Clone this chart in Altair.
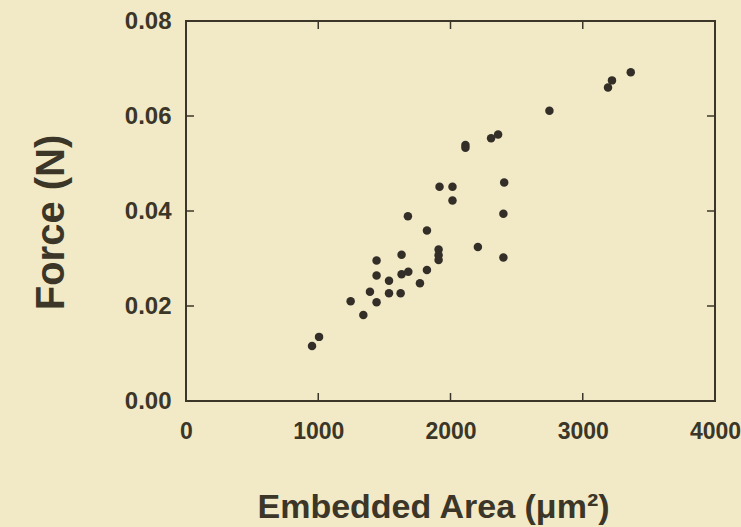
import altair as alt
import pandas as pd

# Data (Embedded Area in µm², Force in N)
area = [953, 1006, 1245, 1341, 1391, 1441, 1441, 1441, 1535, 1535, 1623, 1630,
        1630, 1681, 1678, 1769, 1822, 1822, 1910, 1910, 1910, 1917, 2015, 2015,
        2113, 2113, 2207, 2307, 2360, 2406, 2400, 2400, 2748, 3191, 3221, 3363]
force = [0.0116, 0.0135, 0.0210, 0.0181, 0.0230, 0.0208, 0.0264, 0.0296, 0.0253,
         0.0227, 0.0227, 0.0308, 0.0267, 0.0272, 0.0389, 0.0248, 0.0276, 0.0359,
         0.0319, 0.0307, 0.0297, 0.0451, 0.0451, 0.0422, 0.0539, 0.0533, 0.0324,
         0.0553, 0.0561, 0.0460, 0.0394, 0.0302, 0.0611, 0.0660, 0.0675, 0.0692]

x_labels = [0, 1000, 2000, 3000, 4000]
y_labels = [0.00, 0.02, 0.04, 0.06, 0.08]
x_inner_ticks = [1000, 2000, 3000]
y_inner_ticks = [0.02, 0.04, 0.06]

W, H = 529, 380
BG = "#f2eac6"
INK = "#3b3628"
FONT = "Liberation Sans"

df = pd.DataFrame({"area": area, "force": force})
xt = pd.DataFrame({"area": x_inner_ticks})
yt = pd.DataFrame({"force": y_inner_ticks})

xscale = alt.Scale(domain=[0, 4000], nice=False, zero=False)
yscale = alt.Scale(domain=[0, 0.08], nice=False, zero=False)

xaxis = alt.Axis(values=x_labels, format="d", title="Embedded Area (\u03bcm\u00b2)",
                 ticks=False, domain=False, grid=False, labelFlush=False,
                 labelOverlap=False, labelPadding=19, labelFontSize=23,
                 labelFontWeight="bold", labelFont=FONT, labelColor=INK,
                 titleFontSize=34, titleFontWeight="bold", titleFont=FONT,
                 titleColor=INK, titleX=247, titleY=116,
                 titleBaseline="alphabetic", titleAlign="center")
yaxis = alt.Axis(values=y_labels, format=".2f", title="Force (N)",
                 ticks=False, domain=False, grid=False, labelFlush=False,
                 labelOverlap=False, labelPadding=15, labelFontSize=24,
                 labelFontWeight="bold", labelFont=FONT, labelColor=INK,
                 titleFontSize=40, titleFontWeight="bold", titleFont=FONT,
                 titleColor=INK, titleX=-123, titleY=201, titleAngle=270,
                 titleBaseline="alphabetic", titleAlign="center")

X = alt.X("area:Q", scale=xscale, axis=xaxis)
Y = alt.Y("force:Q", scale=yscale, axis=yaxis)

points = alt.Chart(df).mark_circle(size=72, color="#332e28", opacity=1).encode(x=X, y=Y)

tick_style = dict(color=INK, strokeWidth=1.5)

x_bottom = alt.Chart(xt).mark_rule(**tick_style).encode(
    x=X, y=alt.value(H), y2=alt.value(H - 8))
x_top = alt.Chart(xt).mark_rule(**tick_style).encode(
    x=X, y=alt.value(0), y2=alt.value(8))
y_left = alt.Chart(yt).mark_rule(**tick_style).encode(
    y=Y, x=alt.value(0), x2=alt.value(8))
y_right = alt.Chart(yt).mark_rule(**tick_style).encode(
    y=Y, x=alt.value(W), x2=alt.value(W - 8))

chart = alt.layer(points, x_bottom, x_top, y_left, y_right).properties(
    width=W, height=H,
    background=BG,
    padding={"left": 186, "top": 21, "right": 26, "bottom": 126},
    autosize=alt.AutoSizeParams(type="none"),
).configure_view(stroke=INK, strokeWidth=2)

chart.save("out.html", embed_options={"renderer": "svg", "actions": False})
